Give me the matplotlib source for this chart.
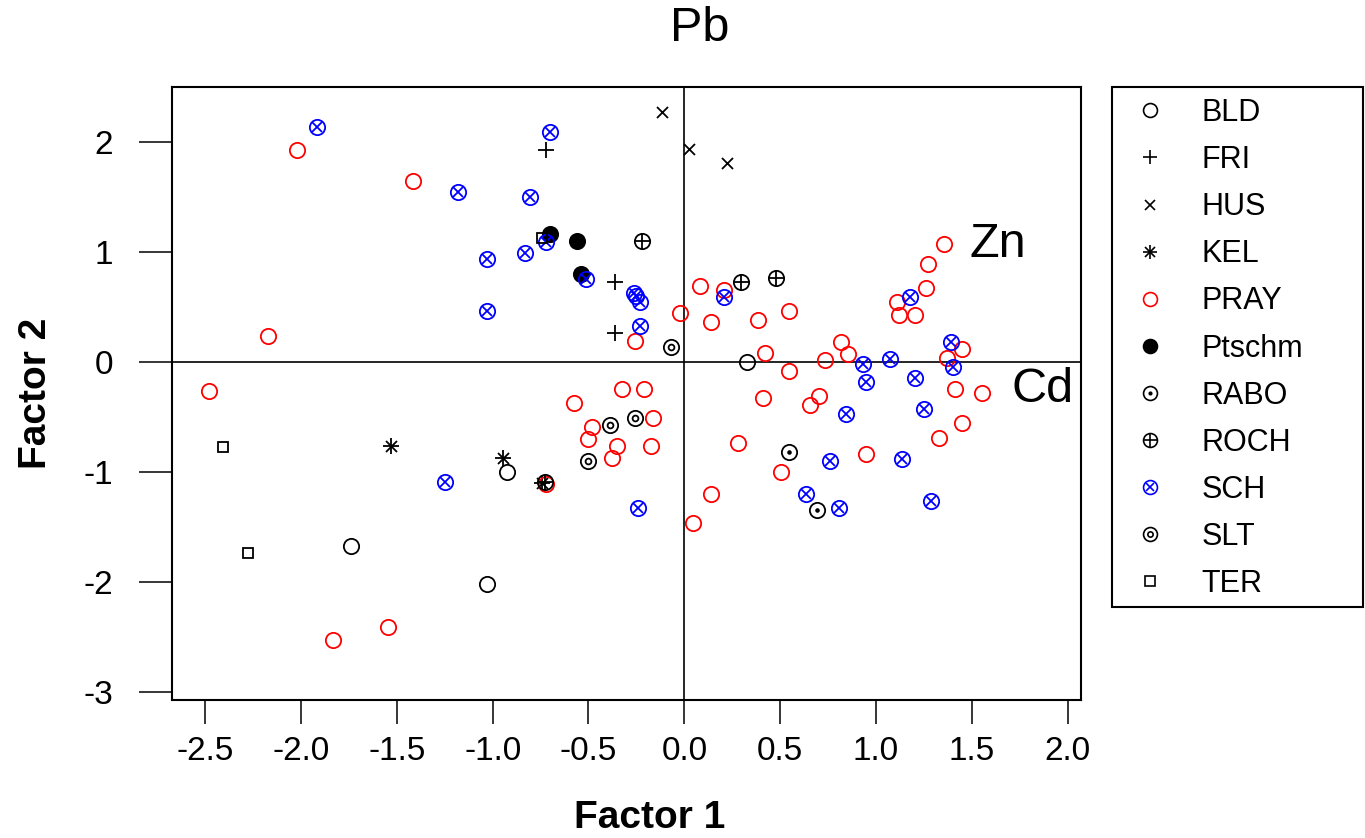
import matplotlib
matplotlib.use("Agg")
import matplotlib.pyplot as plt
from matplotlib.lines import Line2D
from matplotlib.legend_handler import HandlerTuple
from matplotlib.patches import Rectangle

plt.rcParams['font.family'] = ['Liberation Sans', 'DejaVu Sans']

# ---------------- data ----------------
groups = ['BLD', 'FRI', 'HUS', 'KEL', 'PRAY', 'Ptschm', 'RABO', 'ROCH', 'SCH', 'SLT', 'TER']

bld_x = [0.325, -0.923, -1.740, -1.028]
bld_y = [0.005, -1.000, -1.670, -2.018]

fri_x = [-0.723, -0.362, -0.362]
fri_y = [1.930, 0.733, 0.264]

hus_x = [-0.118, 0.026, 0.221]
hus_y = [2.278, 1.936, 1.809]

kel_x = [-1.530, -0.947, -0.745]
kel_y = [-0.761, -0.873, -1.095]

pray_x = [-2.020, -1.414, -2.173, -2.478, -0.257, -0.022, 0.082, 0.138, 0.209, 0.386,
          0.548, 0.421, 0.548, 0.736, 0.817, 0.852, 1.108, 1.120, 1.203, 1.261,
          1.273, 1.355, 1.447, 1.369, 1.412, 1.551, -0.325, -0.210, -0.165, -0.175,
          0.409, 0.703, 0.656, 1.450, 1.330, 0.282, 0.946, 0.503, 0.139, 0.047,
          -0.723, -0.574, -0.480, -0.504, -0.353, -0.376, -1.544, -1.834]
pray_y = [1.933, 1.648, 0.242, -0.260, 0.197, 0.445, 0.694, 0.369, 0.657, 0.385,
          0.466, 0.088, -0.079, 0.021, 0.182, 0.073, 0.551, 0.430, 0.430, 0.673,
          0.894, 1.078, 0.118, 0.036, -0.243, -0.282, -0.245, -0.245, -0.509, -0.758,
          -0.327, -0.303, -0.388, -0.549, -0.691, -0.736, -0.836, -1.000, -1.200, -1.464,
          -1.106, -0.367, -0.591, -0.697, -0.758, -0.873, -2.404, -2.525]

ptschm_x = [-0.701, -0.560, -0.539]
ptschm_y = [1.166, 1.103, 0.800]

rabo_x = [0.548, 0.690]
rabo_y = [-0.818, -1.343]

roch_x = [-0.222, 0.294, 0.478, -0.727]
roch_y = [1.103, 0.733, 0.769, -1.090]

sch_x = [-1.914, -0.701, -1.179, -0.807, -0.723, -0.829, -1.028, -0.513, -0.262, -0.250,
         -0.231, -1.028, -0.231, 0.209, 0.934, 0.946, 1.073, 1.203, 1.177, 1.391,
         1.400, 0.842, 1.250, 0.760, 1.134, 0.633, 0.807, 1.285, -0.243, -1.248]
sch_y = [2.136, 2.096, 1.545, 1.506, 1.097, 0.996, 0.936, 0.755, 0.630, 0.605,
         0.545, 0.466, 0.330, 0.594, -0.018, -0.176, 0.027, -0.140, 0.594, 0.187,
         -0.040, -0.470, -0.427, -0.897, -0.879, -1.200, -1.322, -1.261, -1.322, -1.085]

slt_x = [-0.071, -0.257, -0.388, -0.501]
slt_y = [0.142, -0.509, -0.570, -0.894]

ter_x = [-2.408, -2.278, -0.744]
ter_y = [-0.773, -1.731, 1.133]

loading_labels = ['Pb', 'Zn', 'Cd']
loading_x = [0.082, 1.636, 1.871]
loading_y = [3.03, 1.075, -0.252]

x_ticks = [-2.5, -2.0, -1.5, -1.0, -0.5, 0.0, 0.5, 1.0, 1.5, 2.0]
y_ticks = [-3, -2, -1, 0, 1, 2]

# ---------------- styles ----------------
RED = '#FF0000'
BLUE = '#0000FF'
BLK = '#000000'
MS = 11
MEW = 1.3


def layers(name):
    """marker layers (marker, relative size, color, filled) for each group"""
    c = {'PRAY': RED, 'SCH': BLUE}.get(name, BLK)
    if name == 'BLD' or name == 'PRAY':
        return [('o', 1.0, c, False)]
    if name == 'FRI':
        return [('+', 1.0, c, False)]
    if name == 'HUS':
        return [('x', 0.72, c, False)]
    if name == 'KEL':
        return [('+', 1.0, c, False), ('x', 0.72, c, False)]
    if name == 'Ptschm':
        return [('o', 1.0, c, True)]
    if name == 'RABO':
        return [('o', 1.0, c, False), ('o', 0.18, c, True)]
    if name == 'ROCH':
        return [('o', 1.0, c, False), ('+', 1.0, c, False)]
    if name == 'SCH':
        return [('o', 1.0, c, False), ('x', 0.62, c, False)]
    if name == 'SLT':
        return [('o', 1.0, c, False), ('o', 0.38, c, False)]
    if name == 'TER':
        return [('s', 0.68, c, False)]


data = {
    'BLD': (bld_x, bld_y), 'FRI': (fri_x, fri_y), 'HUS': (hus_x, hus_y),
    'KEL': (kel_x, kel_y), 'PRAY': (pray_x, pray_y), 'Ptschm': (ptschm_x, ptschm_y),
    'RABO': (rabo_x, rabo_y), 'ROCH': (roch_x, roch_y), 'SCH': (sch_x, sch_y),
    'SLT': (slt_x, slt_y), 'TER': (ter_x, ter_y),
}

W, H = 1365, 838
fig = plt.figure(figsize=(W / 100, H / 100), dpi=100)
ax = fig.add_axes([171.7 / W, 1 - 700 / H, (1081 - 171.7) / W, (700 - 86.7) / H])
ax.set_xlim(-2.674, 2.069)
ax.set_ylim(-3.07, 2.505)

ax.axhline(0, color=BLK, lw=1.2, zorder=1)
ax.axvline(0, color=BLK, lw=1.2, zorder=1)

for name in groups:
    xs, ys = data[name]
    for m, s, c, filled in layers(name):
        ax.plot(xs, ys, ls='none', marker=m, ms=MS * s,
                mfc=c if filled else 'none', mec=c, mew=MEW, zorder=3)

for lab, lx, ly in zip(loading_labels, loading_x, loading_y):
    ax.text(lx, ly, lab, fontsize=35, ha='center', va='center', clip_on=False)

ax.set_xticks(x_ticks)
ax.set_xticklabels([f'{v:.1f}' for v in x_ticks])
ax.set_yticks(y_ticks)
ax.set_yticklabels([str(v) for v in y_ticks])
ax.tick_params(axis='x', length=17, width=1.1, pad=9, labelsize=24, direction='out')
ax.tick_params(axis='y', length=24, width=1.1, pad=18, labelsize=24, direction='out')
for sp in ax.spines.values():
    sp.set_linewidth(1.5)

ax.set_xlabel('Factor 1', fontsize=28, fontweight='bold', va='center')
ax.xaxis.set_label_coords((650 - 171.7) / (1081 - 171.7), -(818 - 700) / (700 - 86.7))
ax.set_ylabel('Factor 2', fontsize=28, fontweight='bold', va='center')
ax.yaxis.set_label_coords(-(171.7 - 36) / (1081 - 171.7), 0.5)

# legend
handles = []
for name in groups:
    parts = []
    for m, s, c, filled in layers(name):
        parts.append(Line2D([], [], ls='none', marker=m, ms=10 * s,
                            mfc=c if filled else 'none', mec=c, mew=1.2))
    handles.append(tuple(parts))

fs = 22
leg = fig.legend(handles, groups, handler_map={tuple: HandlerTuple(ndivide=1, pad=0)},
                 loc='upper left', bbox_to_anchor=(1130 / W, 1 - 98 / H),
                 frameon=False, fontsize=fs, borderpad=0, borderaxespad=0,
                 labelspacing=0.56, handlelength=1.3, handletextpad=1.05)
fig.add_artist(Rectangle((1112 / W, 1 - 607 / H), (1363 - 1112) / W, (607 - 87) / H,
                         transform=fig.transFigure, fill=False, ec=BLK, lw=1.5))

fig.savefig('out.png', dpi=100)
